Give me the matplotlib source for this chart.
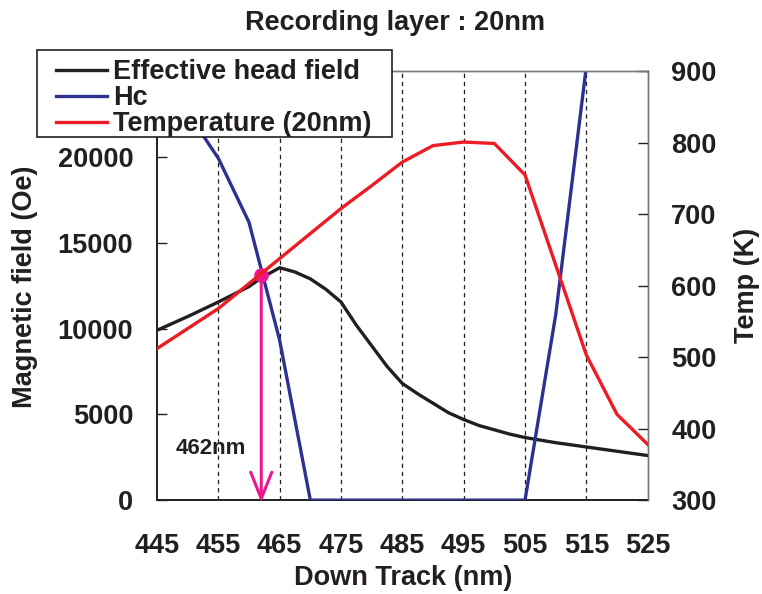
import matplotlib
matplotlib.use("Agg")
import matplotlib.pyplot as plt
from matplotlib.patches import Rectangle
import numpy as np

plt.rcParams['font.family'] = ['Liberation Sans', 'DejaVu Sans']
plt.rcParams['font.weight'] = 'bold'

TXT = '#231f20'
FS = 19.5

# Effective head field (Oe) along the down-track direction
field_x = [445, 450, 455, 460, 462, 465, 467.5, 470, 472.5, 475, 477.5, 480,
           482.5, 485, 487.5, 490, 492.5, 495, 497.5, 500, 502.5, 505, 510,
           515, 520, 525]
field_y = [9900, 10700, 11550, 12450, 12950, 13550, 13300, 12900, 12300, 11550,
           10200, 9000, 7800, 6800, 6200, 5650, 5100, 4700, 4350, 4100, 3850,
           3650, 3350, 3100, 2850, 2600]

# Coercivity Hc (Oe)
hc_x = [445, 450, 455, 460, 465, 470, 475, 480, 485, 490, 495, 500, 505, 510, 515]
hc_y = [25500, 22600, 19930, 16200, 9320, 0, 0, 0, 0, 0, 0, 0, 0, 10800, 25300]

# Temperature of the 20 nm recording layer (K)
temp_x = [445, 450, 455, 460, 465, 470, 475, 480, 485, 490, 495, 500, 505, 510,
          515, 520, 525]
temp_y = [512, 540, 568, 603, 638, 673, 708, 740, 773, 796, 801, 799, 755, 629,
          503, 420, 378]

write_x = 462
write_field = 13100

x_ticks = [445, 455, 465, 475, 485, 495, 505, 515, 525]
grid_x = [455, 465, 475, 485, 495, 505, 515]
left_ticks = [0, 5000, 10000, 15000, 20000]
right_ticks = [300, 400, 500, 600, 700, 800, 900]

fig = plt.figure(figsize=(7.62, 5.94), dpi=100)
ax = fig.add_axes([0.206, 0.158, 0.644, 0.722])
ax2 = ax.twinx()

for gx in grid_x:
    ax.axvline(gx, color=TXT, lw=0.9, ls=(0, (3.5, 3)), zorder=1)

l1, = ax.plot(field_x, field_y, color=TXT, lw=2.4, zorder=3,
              label='Effective head field')
l2, = ax.plot(hc_x, hc_y, color='#2e3192', lw=2.4, zorder=3, label='Hc')
l3, = ax2.plot(temp_x, temp_y, color='#ed1c24', lw=2.4, zorder=3,
               label='Temperature (20nm)')

ax.set_xlim(445, 525)
ax.set_ylim(0, 25000)
ax2.set_ylim(300, 900)

ax.set_xticks(x_ticks)
ax.set_yticks(left_ticks)
ax2.set_yticks(right_ticks)

ax.tick_params(axis='y', direction='in', length=7, width=1.0,
               labelsize=FS, colors=TXT, pad=17)
ax.tick_params(axis='x', direction='in', length=0, labelsize=FS, colors=TXT,
               pad=24)
ax2.tick_params(axis='y', direction='in', length=7, width=1.0,
                labelsize=FS, colors=TXT, pad=17)
for lab in ax.get_xticklabels() + ax.get_yticklabels() + ax2.get_yticklabels():
    lab.set_fontweight('bold')

ax.spines['left'].set_color(TXT)
ax.spines['left'].set_linewidth(1.4)
ax.spines['bottom'].set_color(TXT)
ax.spines['bottom'].set_linewidth(1.4)
for sp in ('top', 'right'):
    ax.spines[sp].set_color('#777777')
    ax.spines[sp].set_linewidth(1.0)
    ax2.spines[sp].set_color('#777777')
    ax2.spines[sp].set_linewidth(1.0)
ax2.spines['left'].set_visible(False)
ax2.spines['bottom'].set_visible(False)

ax.set_xlabel('Down Track (nm)', fontsize=FS, fontweight='bold', color=TXT)
ax.xaxis.set_label_coords(0.501, -0.182)
ax.xaxis.label.set_va('center')
ax.set_ylabel('Magnetic field (Oe)', fontsize=FS, fontweight='bold', color=TXT)
ax.yaxis.set_label_coords(-0.269, 0.497)
ax.yaxis.label.set_va('center')
ax2.set_ylabel('Temp (K)', fontsize=FS, fontweight='bold', color=TXT)
ax2.yaxis.set_label_coords(1.2016, 0.5)
ax2.yaxis.label.set_va('center')
fig.text(0.518, 0.962, 'Recording layer : 20nm', ha='center', va='center',
         fontsize=FS, fontweight='bold', color=TXT)

# writing point and its down-track position
pink = '#ec178f'
ax.annotate('', xy=(write_x, -150), xytext=(write_x, write_field),
            arrowprops=dict(arrowstyle='->, head_length=0.95, head_width=0.38',
                            color=pink, lw=2.2, mutation_scale=20,
                            shrinkA=0, shrinkB=0), zorder=6,
            annotation_clip=False)
ax.plot([write_x], [write_field], 'o', color=pink, ms=9.5, zorder=7)
ax.text(453.7, 3030, f'{write_x}nm', fontsize=16, fontweight='bold',
        color=TXT, ha='center', va='center')

# legend: white box with a thin dark border, entries laid over it
fig.add_artist(Rectangle((0.0486, 0.7694), 0.4659, 0.1465,
                         transform=fig.transFigure, facecolor='white',
                         edgecolor=TXT, linewidth=1.2, zorder=4))
leg = fig.legend(handles=[l1, l2, l3], loc='upper left',
                 bbox_to_anchor=(0.0617, 0.9158), frameon=False,
                 fontsize=FS, handlelength=1.85,
                 handletextpad=0.25, borderpad=0.35, labelspacing=0.0,
                 borderaxespad=0)
leg.set_zorder(5)
for t in leg.get_texts():
    t.set_fontweight('bold')
    t.set_color(TXT)

fig.savefig('out.png', dpi=100)
